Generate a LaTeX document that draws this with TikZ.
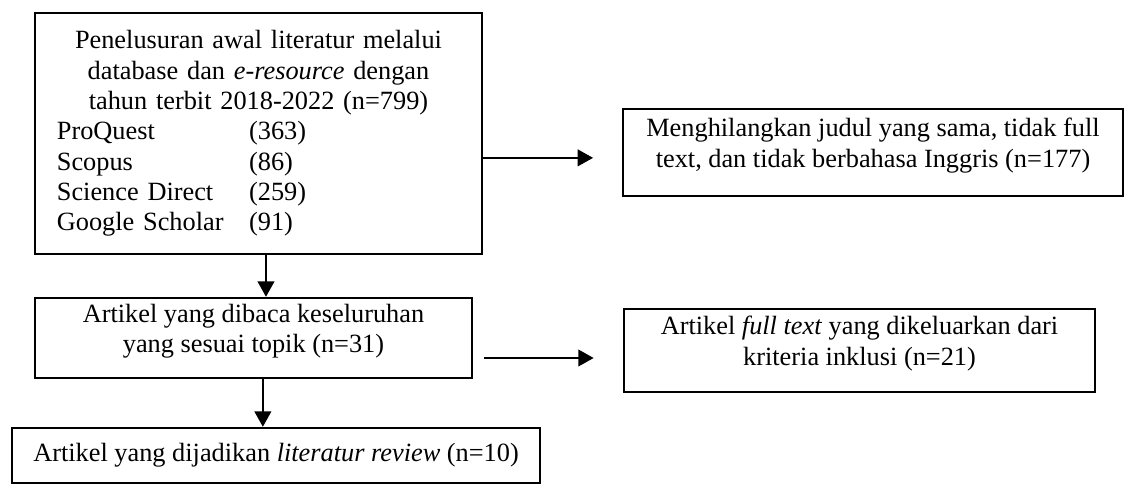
\documentclass[tikz,border=0pt]{standalone}
\usepackage{fontspec}
\setmainfont{Liberation Serif}
\usetikzlibrary{arrows.meta}
\newcommand{\srcrow}[2]{\makebox[3.08cm][l]{#1}#2}
\newcommand{\lowpad}{\rule[-9pt]{0pt}{9pt}}

\begin{document}
\begin{tikzpicture}[>={Triangle[length=7pt,width=7.5pt]}, line width=1.1pt, font=\fontsize{12}{13.8}\selectfont,
    box/.style={draw, inner sep=0pt, align=center}]
    \useasboundingbox (0,0) rectangle (18.07,-7.818);
    \node[draw, inner sep=0pt, minimum width=7.161cm, minimum height=3.861cm, text width=6.46cm] (search) at (4.141,-2.139) {\setlength{\parindent}{0pt}{\centering Penelusuran awal literatur melalui\\database dan \textit{e-resource} dengan\\tahun terbit 2018-2022 (n=799)\par}\raggedright\srcrow{ProQuest}{(363)}\\\srcrow{Scopus}{(86)}\\\srcrow{Science Direct}{(259)}\\\srcrow{Google Scholar}{(91)}};
    \node[box, minimum width=8.01cm, minimum height=1.394cm] (dedup) at (13.985,-2.443) {Menghilangkan judul yang sama, tidak full\\text, dan tidak berbahasa Inggris (n=177)\lowpad};
    \node[box, minimum width=7.001cm, minimum height=1.282cm] (read) at (4.061,-5.415) {Artikel yang dibaca keseluruhan\\yang sesuai topik (n=31)\lowpad};
    \node[box, minimum width=7.545cm, minimum height=1.33cm] (exclude) at (13.769,-5.615) {Artikel \textit{full text} yang dikeluarkan dari\\kriteria inklusi (n=21)\lowpad};
    \node[box, minimum width=8.459cm, minimum height=0.881cm] (final) at (4.422,-7.297) {Artikel yang dijadikan \textit{literatur review} (n=10)};
    % alur utama
    \draw[->] ([xshift=0.12cm]search.south) -- ([xshift=0.12cm]search.south |- read.north);
    \draw[->] ([xshift=0.15cm]read.south) -- ([xshift=0.15cm]read.south |- final.north);
    % yang dikeluarkan
    \draw[->] ([yshift=-0.39cm]search.east) -- ++(1.76,0);
    \draw[->] ([xshift=0.18cm,yshift=-0.32cm]read.east) -- ++(1.75,0);
\end{tikzpicture}
\end{document}
